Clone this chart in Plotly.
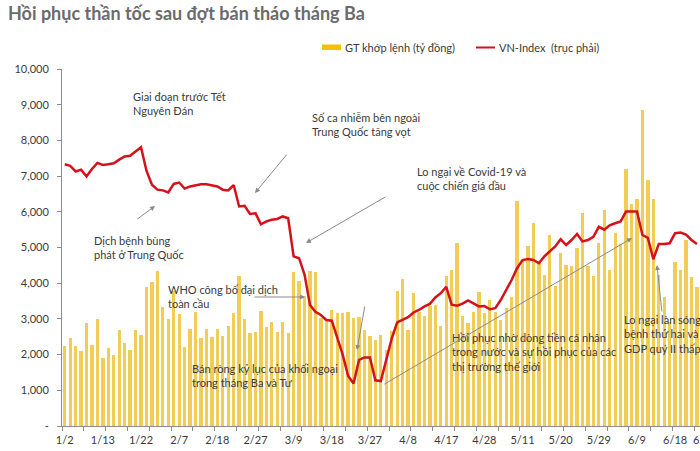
import pandas as pd
import plotly.graph_objects as go

# Ngày giao dịch 2020 (bỏ Tết, Giỗ Tổ, 30/4 - 1/5)
HOLIDAYS = ["2020-01-23", "2020-01-24", "2020-01-27", "2020-01-28", "2020-01-29",
            "2020-04-02", "2020-04-30", "2020-05-01"]
trading_days = [d for d in pd.bdate_range("2020-01-02", "2020-07-10")
                if d.strftime("%Y-%m-%d") not in HOLIDAYS]
day_labels = [f"{d.month}/{d.day}" for d in trading_days]

# GT khớp lệnh (tỷ đồng)
GT_KHOP_LENH = [
    2240, 2465, 2250, 2090, 2880, 2270, 2990, 1910, 2180, 1990, 2680, 2320, 2130, 2690, 2550,
    3890, 4030, 4350, 3330, 3010, 3770, 3140, 2220, 2730, 3200, 2470, 2720, 2490, 2730, 2510,
    2800, 3160, 4190, 2990, 2610, 2620, 3220, 2780, 2920, 2640, 2920, 2610, 4310, 4070, 3630,
    4350, 4310, 3020, 2940, 3250, 3160, 3160, 3190, 3020, 3060, 2690, 2520, 2410, 2550, 2130,
    2650, 3790, 4110, 2690, 3720, 3190, 3070, 3350, 3390, 2790, 4190, 4360, 5120, 3080, 2880,
    3200, 3760, 3160, 3530, 3190, 2970, 3300, 3610, 6290, 4650, 5050, 5680, 4560, 4230, 5360,
    3910, 4840, 4510, 4470, 4980, 5980, 4490, 4190, 5120, 6040, 4360, 5400, 5100, 7210, 6220,
    6360, 8840, 6900, 6360, 4230, 3610, 2900, 4580, 4360, 5210, 4170, 3890,
]

# VN-Index (trục phải)
VN_INDEX = [
    966.5, 964.5, 956.5, 959.0, 949.5, 960.0, 968.5, 965.5, 966.5, 968.0, 973.0, 977.5, 978.5,
    984.5, 990.5, 957.5, 938.0, 931.0, 930.0, 927.0, 939.0, 941.0, 932.5, 935.5, 937.5, 938.5,
    938.5, 937.5, 935.5, 931.0, 930.0, 937.5, 907.5, 908.5, 897.0, 898.0, 882.5, 886.5, 889.0,
    890.0, 893.5, 891.0, 837.5, 835.0, 812.0, 769.5, 760.0, 755.5, 748.5, 747.5, 725.0, 700.0,
    670.0, 659.5, 692.5, 696.0, 696.0, 664.0, 663.0, 695.0, 722.5, 745.0, 748.5, 752.5, 759.0,
    762.5, 767.5, 771.0, 780.0, 786.0, 795.0, 770.0, 768.5, 771.5, 776.0, 772.0, 767.5, 768.0,
    763.5, 765.0, 776.5, 790.5, 804.5, 821.0, 832.5, 834.0, 832.5, 828.0, 837.5, 844.5, 851.5,
    861.5, 853.5, 860.5, 869.0, 858.5, 860.5, 865.0, 879.0, 875.0, 881.0, 884.0, 886.5, 900.5,
    900.5, 900.5, 867.5, 863.5, 833.5, 855.0, 855.0, 856.0, 870.0, 871.0, 868.0, 860.5, 855.0,
]

BAR_COLOR = "#F2CD55"
LINE_COLOR = "#D3121B"
TEXT_COLOR = "#3a3a3a"
AXIS_COLOR = "#8c8c8c"
FONT = "Lato"

# vùng vẽ (pixel) để đặt chú thích
L, R, T, B = 62, 700, 69, 426
BAR_PX = 5.45


def px(x, y):
    return (x - L) / (R - L), (B - y) / (B - T)


idx = list(range(len(GT_KHOP_LENH)))
tick_pos = list(range(0, len(GT_KHOP_LENH), 7))

fig = go.Figure()
fig.add_trace(go.Bar(x=idx, y=GT_KHOP_LENH, marker_color=BAR_COLOR, marker_line_width=0,
                     width=0.6, name="GT khớp lệnh (tỷ đồng)"))
fig.add_trace(go.Scatter(x=idx, y=VN_INDEX, yaxis="y2", mode="lines",
                         line=dict(color=LINE_COLOR, width=2.5), name="VN-Index (trục phải)"))

fig.update_layout(
    width=700, height=451,
    margin=dict(l=L, r=700 - R, t=T, b=451 - B, autoexpand=False),
    paper_bgcolor="white", plot_bgcolor="white",
    showlegend=False, bargap=0,
    font=dict(family=FONT, size=11, color=TEXT_COLOR),
    title=dict(text="<b>Hồi phục thần tốc sau đợt bán tháo tháng Ba</b>",
               x=8 / 700, xanchor="left", xref="container",
               y=1 - 14 / 451, yanchor="middle", yref="container",
               font=dict(family=FONT, size=18, color="#6b6b6b")),
    xaxis=dict(range=[-0.5, (R - L) / BAR_PX - 0.5], tickvals=tick_pos,
               ticktext=[day_labels[i] for i in tick_pos], ticks="", ticklabelstandoff=4,
               minor=dict(ticks="outside", tick0=-0.5, dtick=4, ticklen=4, tickcolor=AXIS_COLOR),
               showline=True, linecolor=AXIS_COLOR, showgrid=False, zeroline=False,
               tickfont=dict(size=11, color=TEXT_COLOR)),
    yaxis=dict(range=[0, 10000], tickvals=list(range(0, 10001, 1000)),
               ticktext=["-"] + [f"{v:,}" for v in range(1000, 10001, 1000)],
               ticks="outside", ticklen=4, tickcolor=AXIS_COLOR, ticklabelstandoff=6,
               showline=True, linecolor=AXIS_COLOR, showgrid=False, zeroline=False,
               tickfont=dict(size=11, color=TEXT_COLOR)),
    yaxis2=dict(overlaying="y", side="right", range=[600, 1100], visible=False),
)

# nhãn ngày bị cắt ở mép phải (vị trí ngày thứ 119)
lx, ly = px(L + (119 + 0.5) * BAR_PX - 8, B + 13)
fig.add_annotation(x=lx, y=ly, xref="paper", yref="paper", text=day_labels[119],
                   showarrow=False, xanchor="center", yanchor="middle",
                   font=dict(size=11, color=TEXT_COLOR))

# chú giải vẽ tay
x0, y0 = px(322, 44.5)
x1, y1 = px(341, 50)
fig.add_shape(type="rect", xref="paper", yref="paper", x0=x0, y0=y0, x1=x1, y1=y1,
              fillcolor="#F5C000", line_width=0)
x0, y0 = px(476, 47.5)
x1, _ = px(495, 47.5)
fig.add_shape(type="line", xref="paper", yref="paper", x0=x0, y0=y0, x1=x1, y1=y0,
              line=dict(color=LINE_COLOR, width=2))
for lx, txt in [(343, "GT khớp lệnh (tỷ đồng)"), (497, "VN-Index  (trục phải)")]:
    ax_, ay_ = px(lx, 47.5)
    fig.add_annotation(x=ax_, y=ay_, xref="paper", yref="paper", text=txt, showarrow=False,
                       xanchor="left", yanchor="middle", font=dict(size=11, color=TEXT_COLOR))

notes = [
    (131, 88, "Giai đoạn trước Tết<br>Nguyên Đán"),
    (92, 232, "Dịch bệnh bùng<br>phát ở Trung Quốc"),
    (310, 109, "Số ca nhiễm bên ngoài<br>Trung Quốc tăng vọt"),
    (415, 163, "Lo ngại về Covid-19 và<br>cuộc chiến giá dầu"),
    (166, 281, "WHO công bố đại dịch<br>toàn cầu"),
    (190, 360, "Bán ròng kỷ lục của khối ngoại<br>trong tháng Ba và Tư"),
    (450, 329, "Hồi phục nhờ dòng tiền cá nhân<br>trong nước và sự hồi phục của các<br>thị trường thế giới"),
    (622, 311, "Lo ngại làn sóng<br>bệnh thứ hai và<br>GDP quý II thấp"),
]
for nx, ny, txt in notes:
    xx, yy = px(nx, ny)
    fig.add_annotation(x=xx, y=yy, xref="paper", yref="paper", text=txt, showarrow=False,
                       xanchor="left", yanchor="top", align="left",
                       font=dict(size=11, color=TEXT_COLOR))

# mũi tên: (đuôi) -> (đầu)
arrows = [
    ((136, 220), (155, 206)),
    ((288, 153), (255, 193)),
    ((387, 196), (306, 243)),
    ((253, 297), (305, 297)),
    ((365, 305), (357, 350)),
    ((383, 385), (632, 238)),
    ((662, 313), (657, 265)),
]
for (tx, ty), (hx, hy) in arrows:
    xx, yy = px(hx, hy)
    fig.add_annotation(x=xx, y=yy, xref="paper", yref="paper", text="", showarrow=True,
                       ax=tx - hx, ay=ty - hy, arrowhead=2, arrowsize=1, arrowwidth=1,
                       arrowcolor="#8a8a8a")

# bỏ lề mặc định của trang để hình nằm sát góc trên trái
fig.write_html("out.html", config={"displayModeBar": False},
               post_script="document.body.style.margin='0';")
